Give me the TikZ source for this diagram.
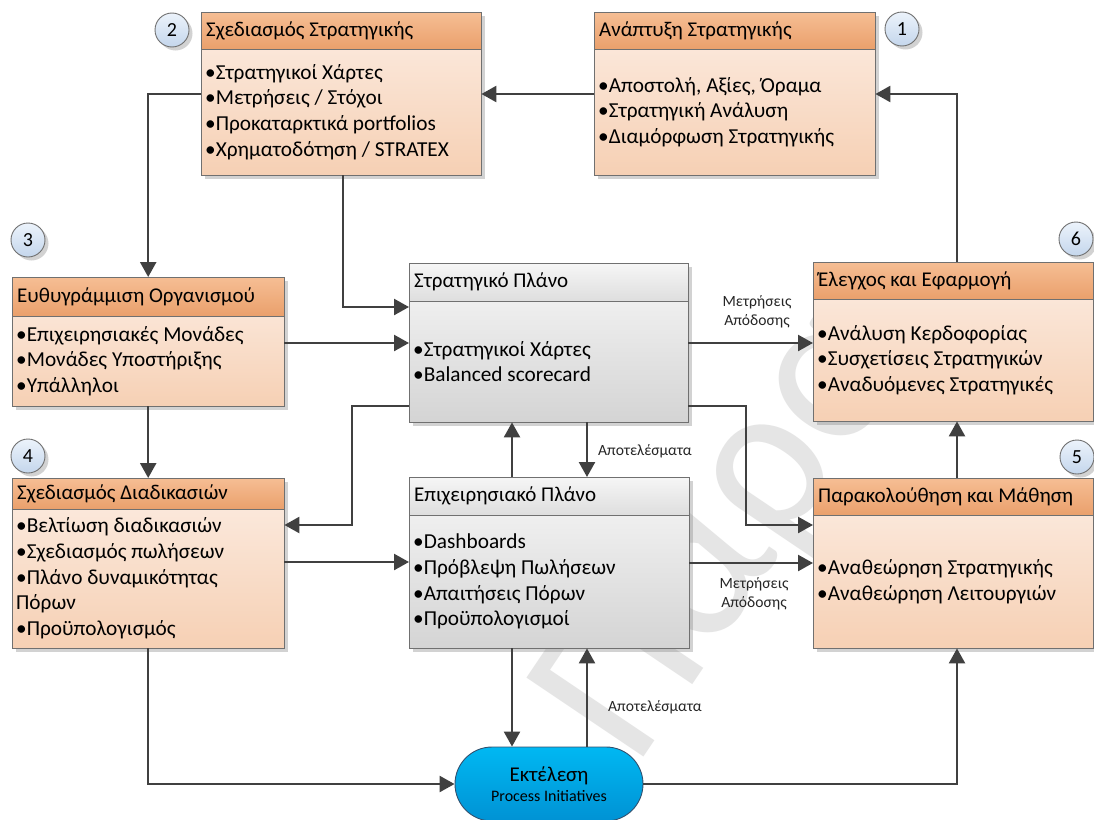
\documentclass[tikz,border=0pt]{standalone}
\usepackage{fontspec}
\setmainfont{Carlito}
\usetikzlibrary{arrows.meta,shadows,shapes.misc}

\definecolor{linec}{RGB}{64,64,64}
\definecolor{edgec}{RGB}{112,112,112}
\definecolor{ohtop}{RGB}{246,190,148}
\definecolor{ohbot}{RGB}{234,160,108}
\definecolor{obtop}{RGB}{252,237,227}
\definecolor{obbot}{RGB}{246,208,180}
\definecolor{ghtop}{RGB}{246,246,246}
\definecolor{ghbot}{RGB}{222,222,222}
\definecolor{gbtop}{RGB}{247,247,247}
\definecolor{gbbot}{RGB}{212,212,212}
\definecolor{ctop}{RGB}{236,243,251}
\definecolor{cbot}{RGB}{196,214,236}
\definecolor{extop}{RGB}{0,184,242}
\definecolor{exbot}{RGB}{0,146,212}
\definecolor{wmark}{RGB}{229,229,229}

\newcommand{\titlesize}{\fontsize{21}{24}\selectfont}
\newcommand{\bodysize}{\fontsize{21.3}{25.7}\selectfont}
\newcommand{\labelsize}{\fontsize{15.6}{18.5}\selectfont}

\tikzset{
  boxshadow/.style={drop shadow={shadow xshift=3.5pt,shadow yshift=-3.5pt,opacity=0.35,fill=gray}},
  obody/.style={rectangle, inner sep=0pt, shade, top color=obtop, bottom color=obbot, boxshadow},
  gbody/.style={rectangle, inner sep=0pt, shade, top color=gbtop, bottom color=gbbot, boxshadow},
  ohead/.style={top color=ohtop, bottom color=ohbot},
  ghead/.style={top color=ghtop, bottom color=ghbot},
  edge/.style={draw=edgec, line width=1pt},
  conn/.style={draw=linec, line width=2.4pt, -{Triangle[length=15pt,width=16pt]}},
  numdot/.style={circle, minimum size=34pt, inner sep=0pt, draw=edgec, line width=0.9pt,
    shade, top color=ctop, bottom color=cbot, boxshadow, font=\fontsize{20}{22}\selectfont},
  flowlabel/.style={font=\labelsize, align=center, inner sep=0pt, text=black!85}
}

% one stage: name, x1, y1, x2, y2, header bottom, kind (o/g), title, body
\newcommand{\stage}[9]{%
  \pgfmathsetmacro\hy{(#3+#6)/2}%
  \pgfmathsetmacro\by{(#6+#5)/2}%
  \node[#7body, anchor=north west, minimum width={#4-#2}, minimum height={#5-#3}] (#1) at (#2,#3) {};
  \shade[#7head] (#1.north west) rectangle (#1.east |- 0,#6);
  \draw[edge] (#1.west |- 0,#6) -- (#1.east |- 0,#6);
  \draw[edge] (#1.north west) rectangle (#1.south east);
  \node[anchor=west, inner sep=0pt, font=\titlesize] (#1-t) at ([xshift=5pt]#1.west |- 0,\hy) {#8};
  \node[anchor=west, inner sep=0pt, align=left, font=\bodysize] (#1-b) at ([xshift=4pt]#1.west |- 0,\by) {#9};
}

\begin{document}
\begin{tikzpicture}[x=1pt, y=-1pt]
\useasboundingbox (0,0) rectangle (1094,819);
\fill[white] (0,0) rectangle (1094,819);

% background watermark
\node[rotate=56, text=wmark, font=\fontsize{220}{220}\selectfont, anchor=base west, inner sep=0pt] (wm) at (635,770) {Παρα};

% stages
\stage{b2}{201}{12}{481}{175}{49}{o}{Σχεδιασμός Στρατηγικής}
  {•Στρατηγικοί Χάρτες\\•Μετρήσεις / Στόχοι\\•Προκαταρκτικά portfolios\\•Χρηματοδότηση / STRATEX}
\stage{b1}{594}{12}{875}{175}{49}{o}{Ανάπτυξη Στρατηγικής}
  {•Αποστολή, Αξίες, Όραμα\\•Στρατηγική Ανάλυση\\•Διαμόρφωση Στρατηγικής}
\stage{b3}{12}{277}{284}{406}{316}{o}{Ευθυγράμμιση Οργανισμού}
  {•Επιχειρησιακές Μονάδες\\•Μονάδες Υποστήριξης\\•Υπάλληλοι}
\stage{sp}{409}{263}{688}{422}{301}{g}{Στρατηγικό Πλάνο}
  {•Στρατηγικοί Χάρτες\\•Balanced scorecard}
\stage{b6}{813}{262}{1093}{421}{299}{o}{Έλεγχος και Εφαρμογή}
  {•Ανάλυση Κερδοφορίας\\•Συσχετίσεις Στρατηγικών\\•Αναδυόμενες Στρατηγικές}
\stage{b4}{12}{478}{284}{648}{509}{o}{Σχεδιασμός Διαδικασιών}
  {•Βελτίωση διαδικασιών\\•Σχεδιασμός πωλήσεων\\•Πλάνο δυναμικότητας\\Πόρων\\•Προϋπολογισμός}
\stage{op}{409}{477}{689}{648}{515}{g}{Επιχειρησιακό Πλάνο}
  {•Dashboards\\•Πρόβλεψη Πωλήσεων\\•Απαιτήσεις Πόρων\\•Προϋπολογισμοί}
\stage{b5}{813}{478}{1093}{648}{515}{o}{Παρακολούθηση και Μάθηση}
  {•Αναθεώρηση Στρατηγικής\\•Αναθεώρηση Λειτουργιών}

% execution terminal
\node[rounded rectangle, minimum width=188pt, minimum height=74pt, inner sep=0pt,
      draw={rgb,255:red,50;green,80;blue,110}, line width=0.9pt,
      shade, top color=extop, bottom color=exbot, align=center] (ex) at (549,784)
  {\fontsize{21}{22}\selectfont Εκτέλεση\\[5pt]\fontsize{16}{17}\selectfont Process Initiatives};

% step numbers
\node[numdot] (n1) at (902,29) {1};
\node[numdot] (n2) at (172,30) {2};
\node[numdot] (n3) at (28,240) {3};
\node[numdot] (n4) at (28,456) {4};
\node[numdot] (n5) at (1077,457) {5};
\node[numdot] (n6) at (1076,239) {6};

% connectors
\draw[conn] (b1.west |- 0,94) -- (b2.east |- 0,94);
\draw[conn] (b6.north -| 957,0) |- (b1.east |- 0,94);
\draw[conn] (b2.west |- 0,94) -| (b3.north);
\draw[conn] (b2.south -| 343,0) |- (sp.west |- 0,307);
\draw[conn] (b3.east |- 0,343) -- (sp.west |- 0,343);
\draw[conn] (b3.south) -- (b4.north);
\draw[conn] (sp.west |- 0,406) -| (352,525) -- (b4.east |- 0,525);
\draw[conn] (b4.east |- 0,562) -- (op.west |- 0,562);
\draw[conn] (sp.east |- 0,343) -- (b6.west |- 0,343);
\draw[conn] (sp.east |- 0,406) -| (746,525) -- (b5.west |- 0,525);
\draw[conn] (op.east |- 0,563) -- (b5.west |- 0,563);
\draw[conn] (sp.south -| 587,0) -- (op.north -| 587,0);
\draw[conn] (op.north -| 512,0) -- (sp.south -| 512,0);
\draw[conn] (op.south -| 512,0) -- (ex.north -| 512,0);
\draw[conn] (ex.north -| 587,0) -- (op.south -| 587,0);
\draw[conn] (b4.south) |- (ex.west);
\draw[conn] (ex.east) -| (b5.south -| 957,0);
\draw[conn] (b5.north -| 957,0) -- (b6.south -| 957,0);

% connector labels
\node[flowlabel] (l1) at (757,312) {Μετρήσεις\\Απόδοσης};
\node[flowlabel] (l2) at (754,594) {Μετρήσεις\\Απόδοσης};
\node[flowlabel] (l3) at (645,451) {Αποτελέσματα};
\node[flowlabel] (l4) at (655,707) {Αποτελέσματα};
\end{tikzpicture}
\end{document}
